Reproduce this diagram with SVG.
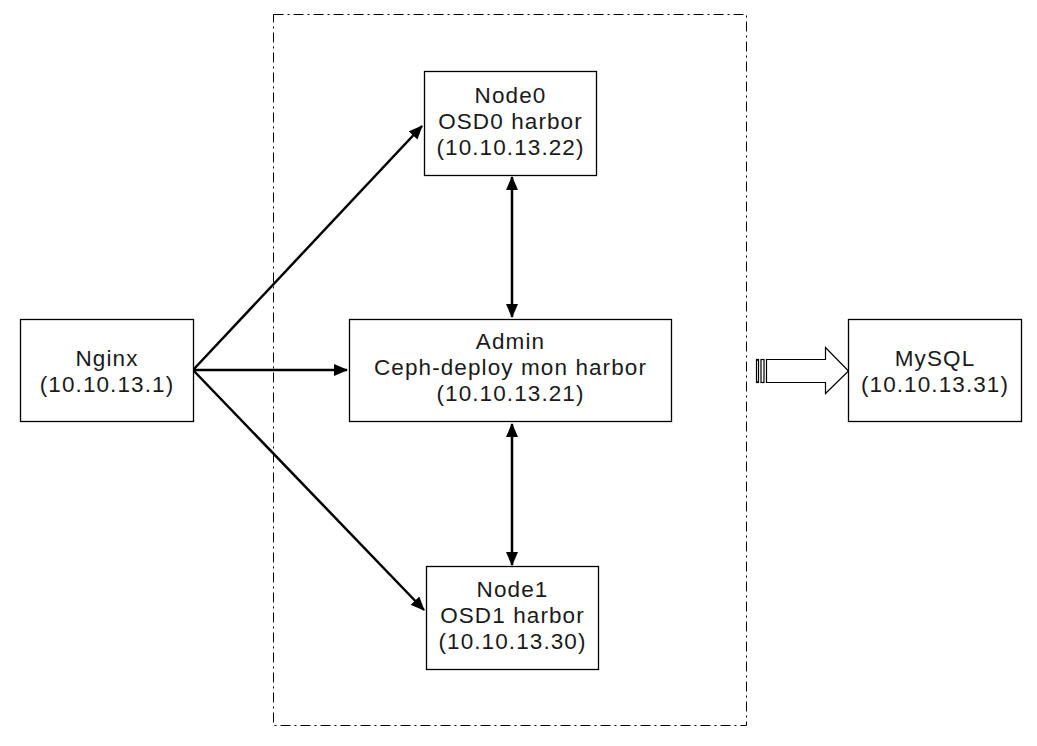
<svg xmlns="http://www.w3.org/2000/svg" width="1037" height="746" viewBox="0 0 1037 746">
<defs>
<style>
.box{fill:#fff;stroke:#000;stroke-width:1.3}
.t{font-family:"Liberation Sans",Arial,sans-serif;font-size:22.5px;letter-spacing:1.1px;fill:#1a1a1a;text-anchor:middle}
.c{stroke:#000;stroke-width:2.5;fill:none}
</style>
<marker id="ah2" markerWidth="14" markerHeight="12" refX="13" refY="6" orient="auto-start-reverse" markerUnits="userSpaceOnUse" viewBox="0 0 14 12">
<path d="M0,0 L14,6 L0,12 z" fill="#000"/>
</marker>
</defs>
<rect width="1037" height="746" fill="#fff"/>
<rect id="container" x="273.5" y="14.5" width="473" height="711" fill="none" stroke="#000" stroke-width="1" stroke-dasharray="10,4,2,4"/>
<g id="connectors">
<line class="c" x1="193" y1="370" x2="422" y2="126" marker-end="url(#ah2)"/>
<line class="c" x1="193" y1="370" x2="347" y2="370" marker-end="url(#ah2)"/>
<line class="c" x1="193" y1="370" x2="424" y2="610" marker-end="url(#ah2)"/>
<line class="c" x1="512" y1="177" x2="512" y2="317" marker-start="url(#ah2)" marker-end="url(#ah2)"/>
<line class="c" x1="512" y1="424" x2="512" y2="565" marker-start="url(#ah2)" marker-end="url(#ah2)"/>
<g id="block-arrow" fill="#fff" stroke="#000" stroke-width="1.2">
<rect x="756.5" y="359.5" width="2" height="23"/>
<rect x="761" y="359.5" width="3" height="23"/>
<path d="M766.5,359.5 H825.5 V347.5 L848.5,371 L825.5,393.5 V382.5 H766.5 Z"/>
</g>
</g>
<g id="nginx">
<rect class="box" x="20.5" y="319.5" width="173" height="102"/>
<text class="t" x="107" y="366">Nginx</text>
<text class="t" x="107" y="392">(10.10.13.1)</text>
</g>
<g id="node0">
<rect class="box" x="424.5" y="71.5" width="172" height="104"/>
<text class="t" x="510.5" y="103">Node0</text>
<text class="t" x="510.5" y="129">OSD0 harbor</text>
<text class="t" x="510.5" y="155">(10.10.13.22)</text>
</g>
<g id="admin">
<rect class="box" x="349.5" y="319.5" width="322" height="102"/>
<text class="t" x="510.5" y="349">Admin</text>
<text class="t" x="510.5" y="375">Ceph-deploy mon harbor</text>
<text class="t" x="510.5" y="401">(10.10.13.21)</text>
</g>
<g id="node1">
<rect class="box" x="426.5" y="566.5" width="172" height="103"/>
<text class="t" x="512.5" y="597">Node1</text>
<text class="t" x="512.5" y="623">OSD1 harbor</text>
<text class="t" x="512.5" y="649">(10.10.13.30)</text>
</g>
<g id="mysql">
<rect class="box" x="848.5" y="319.5" width="173" height="102"/>
<text class="t" x="935" y="366">MySQL</text>
<text class="t" x="935" y="392">(10.10.13.31)</text>
</g>
</svg>
